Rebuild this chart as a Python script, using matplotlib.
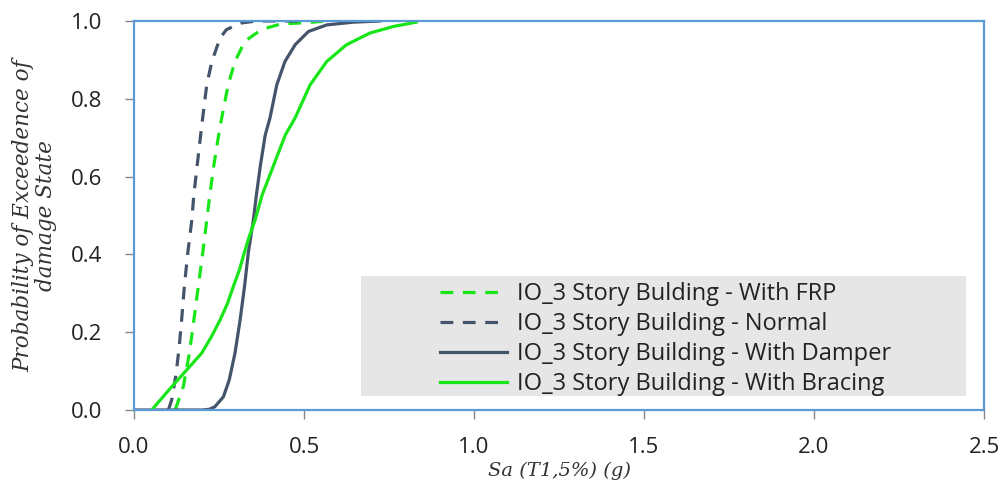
import matplotlib
matplotlib.use("Agg")
import matplotlib.pyplot as plt
from matplotlib.patches import Rectangle

# Fragility curves, IO limit state, 3-story building
frp_sa = [0.121, 0.145, 0.163, 0.176, 0.189, 0.202, 0.214, 0.223, 0.235, 0.249, 0.258, 0.277,
          0.297, 0.326, 0.375, 0.43, 0.527, 0.56]
frp_p = [0.0, 0.06, 0.146, 0.231, 0.317, 0.403, 0.488, 0.553, 0.630, 0.707, 0.751, 0.836,
         0.896, 0.948, 0.978, 0.992, 0.997, 1.0]

normal_sa = [0.101, 0.111, 0.124, 0.133, 0.140, 0.148, 0.158, 0.170, 0.176, 0.186, 0.196, 0.202,
             0.214, 0.229, 0.253, 0.272, 0.316, 0.36, 0.50]
normal_p = [0.0, 0.026, 0.094, 0.163, 0.231, 0.317, 0.403, 0.488, 0.553, 0.630, 0.707, 0.751,
            0.836, 0.896, 0.956, 0.978, 0.995, 1.0, 1.0]

damper_sa = [0.0, 0.203, 0.222, 0.238, 0.263, 0.280, 0.297, 0.312, 0.325, 0.336, 0.351, 0.360,
             0.372, 0.386, 0.400, 0.420, 0.444, 0.474, 0.513, 0.567, 0.645, 0.723]
damper_p = [0.0, 0.0, 0.002, 0.0085, 0.034, 0.077, 0.146, 0.231, 0.317, 0.403, 0.488, 0.553,
            0.630, 0.707, 0.751, 0.836, 0.896, 0.939, 0.973, 0.990, 0.997, 1.0]

bracing_sa = [0.052, 0.111, 0.155, 0.199, 0.228, 0.253, 0.275, 0.292, 0.310, 0.324, 0.339, 0.356,
              0.377, 0.411, 0.445, 0.474, 0.518, 0.567, 0.625, 0.694, 0.763, 0.83]
bracing_p = [0.0, 0.06, 0.103, 0.146, 0.189, 0.231, 0.274, 0.317, 0.360, 0.403, 0.446, 0.488,
             0.553, 0.630, 0.707, 0.751, 0.836, 0.896, 0.939, 0.969, 0.986, 0.997]

labels = [
    "IO_3 Story Bulding - With FRP",
    "IO_3 Story Building - Normal",
    "IO_3 Story Building - With Damper",
    "IO_3 Story Building - With Bracing",
]
x_ticks = [0.0, 0.5, 1.0, 1.5, 2.0, 2.5]
y_ticks = [0.0, 0.2, 0.4, 0.6, 0.8, 1.0]

GREEN = "#19E619"
DARK = "#44546A"
EDGE = "#5B9BD5"
TICK = "#868686"
SANS = "Open Sans"
SERIF = "DejaVu Serif"

fig = plt.figure(figsize=(10.07, 4.87), dpi=100)
ax = fig.add_axes([134 / 1007, 1 - 410 / 487, 850 / 1007, 389 / 487])

dash = (4.0, 3.0)
lw = 2.3
ax.plot(frp_sa, frp_p, color=GREEN, lw=lw, linestyle=(0, dash), label=labels[0])
ax.plot(normal_sa, normal_p, color=DARK, lw=lw, linestyle=(0, dash), label=labels[1])
ax.plot(damper_sa, damper_p, color=DARK, lw=lw, label=labels[2])
ax.plot(bracing_sa, bracing_p, color=GREEN, lw=lw, label=labels[3])

ax.set_xlim(0, 2.5)
ax.set_ylim(0, 1.0)
ax.set_xticks(x_ticks)
ax.set_yticks(y_ticks)
ax.set_xticklabels([f"{v:.1f}" for v in x_ticks])
ax.set_yticklabels([f"{v:.1f}" for v in y_ticks])

for s in ax.spines.values():
    s.set_color(EDGE)
    s.set_linewidth(1.6)

ax.tick_params(axis="both", direction="out", length=6.5, width=1, color=TICK,
               labelsize=16, labelcolor="#222222")
ax.tick_params(axis="x", pad=13)
ax.tick_params(axis="y", pad=16)
for lab in ax.get_xticklabels() + ax.get_yticklabels():
    lab.set_family(SANS)

ax.set_xlabel("Sa (T1,5%) (g)", family=SERIF, style="italic",
              fontsize=14, color="#333333", labelpad=3)
ax.set_ylabel("Probability of Exceedence of\ndamage State", family=SERIF,
              style="italic", fontsize=15.5, color="#333333", labelpad=10, linespacing=1.05)

# Legend panel
ax.add_patch(Rectangle(((361 - 134) / 850, (410 - 396) / 389), (966 - 361) / 850, (396 - 276) / 389,
                       transform=ax.transAxes, facecolor="#E6E6E6", edgecolor="none", zorder=3))
leg = ax.legend(loc="upper left", bbox_to_anchor=((440 - 134) / 850, (410 - 282) / 389),
                frameon=False, borderpad=0, borderaxespad=0, handlelength=2.85,
                handletextpad=0.4, labelspacing=0.255,
                prop={"family": SANS, "size": 17})
leg.set_zorder(4)
for t in leg.get_texts():
    t.set_color("#222222")

fig.savefig("out.png", dpi=100)
